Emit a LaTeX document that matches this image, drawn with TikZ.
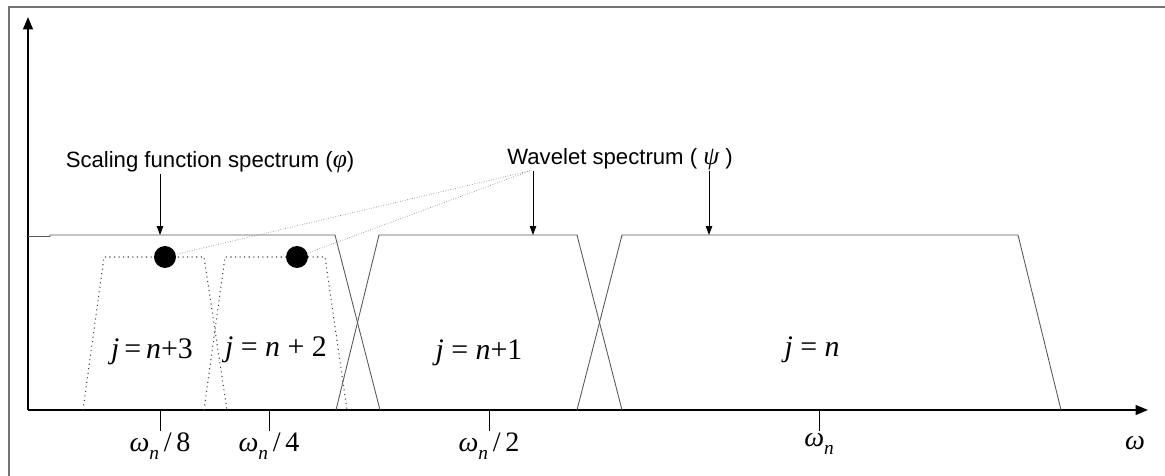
\documentclass[tikz,border=0pt]{standalone}
\usepackage{fontspec}
\newfontfamily\didafont{Liberation Sans}
\newfontfamily\formfont{Liberation Serif}
\newcommand{\omn}{\textit{ω}\raisebox{-4.5pt}{\fontsize{11}{11}\selectfont\textit{n}}}
\newcommand{\greca}[1]{{\formfont\itshape\fontsize{14.5}{15}\selectfont #1}}
\usetikzlibrary{arrows.meta, calc}

\begin{document}
\begin{tikzpicture}[
  x=0.02cm, y=-0.02cm,
  cornice/.style={draw=black!55, line width=1pt},
  asse/.style={draw=black, line width=1.1pt, -{Triangle[length=7pt,width=5.5pt]}},
  spettro/.style={draw=black!65, line width=0.5pt},
  spdot/.style={draw=black!75, line width=0.6pt, dotted},
  guida/.style={draw=black!45, line width=0.4pt, densely dotted},
  annar/.style={draw=black, line width=0.5pt, -{Triangle[length=5pt,width=3.6pt]}},
  tacca/.style={draw=black, line width=0.5pt},
  annot/.style={font=\didafont\fontsize{12.6}{15}\selectfont, inner sep=0pt},
  jlab/.style={font=\formfont\fontsize{17}{19}\selectfont, inner sep=1pt},
  wlab/.style={font=\formfont\fontsize{16}{18}\selectfont, inner sep=1pt},
  pallino/.style={circle, fill=black, minimum size=0.44cm, inner sep=0pt}
]
\useasboundingbox (0,0) rectangle (1165,476);

%--------------------------------------------------------------
% Cornice e assi
%--------------------------------------------------------------
\draw[cornice] (9,476) -- (9,7) -- (1165,7);
\coordinate (O) at (28,410);
\draw[asse] (O) -- (28,17);
\draw[asse] (O) -- (1148,410);
\node[wlab] (om) at (1135,443) {\textit{ω}};

%--------------------------------------------------------------
% Spettri (trapezi)
%--------------------------------------------------------------
\draw[spettro] (28,236.5) -- (50,236.5) -- (50,235) -- (335,235) -- (380,410);
\draw[spettro] (336,410) -- (379,235) -- (577,235) -- (622,410);
\draw[spettro] (577,410) -- (622,235) -- (1018,235) -- (1061,410);
\draw[spdot] (83,410) -- (104,257) -- (204,257) -- (227,410);
\draw[spdot] (204,410) -- (225,257) -- (325,257) -- (347,410);

\node[jlab] (j3) at (152,352) {\textit{j}\,=\,\textit{n}+3};
\node[jlab] (j2) at (276,350) {\textit{j} = \textit{n} + 2};
\node[jlab] (j1) at (479,353) {\textit{j} = \textit{n}+1};
\node[jlab] (j0) at (812,350) {\textit{j} = \textit{n}};

%--------------------------------------------------------------
% Tacche sull'asse
%--------------------------------------------------------------
\foreach \x/\lab/\nm in {160/{\omn\,/\,8}/w8, 269/{\omn\,/\,4}/w4,
                         489/{\omn\,/\,2}/w2, 819/{\omn}/wn} {
  \node[wlab, anchor=north] (\nm) at (\x,431) {\lab};
  \draw[tacca] (\nm.north |- O) -- (\nm.north);
}

%--------------------------------------------------------------
% Didascalie
%--------------------------------------------------------------
\node[annot, anchor=base] (scal) at (210,168) {Scaling function spectrum (\greca{φ})};
\node[annot, anchor=base] (wav) at (620,165) {Wavelet spectrum ( \greca{ψ} )};

\coordinate (s1) at (160,235);
\coordinate (w1) at (533,235);
\coordinate (w2) at (709,235);

\draw[annar] (scal.south -| s1) -- (s1);
\draw[annar] (wav.south -| w1) -- (w1);
\draw[annar] (wav.south -| w2) -- (w2);

\coordinate (wg) at ($(wav.south -| w1)+(-3,0)$);
\node[pallino] (d3) at (165,257) {};
\node[pallino] (d2) at (297,257) {};
\draw[guida] (wg) -- (d3);
\draw[guida] (wg) -- (d2);

\end{tikzpicture}
\end{document}
